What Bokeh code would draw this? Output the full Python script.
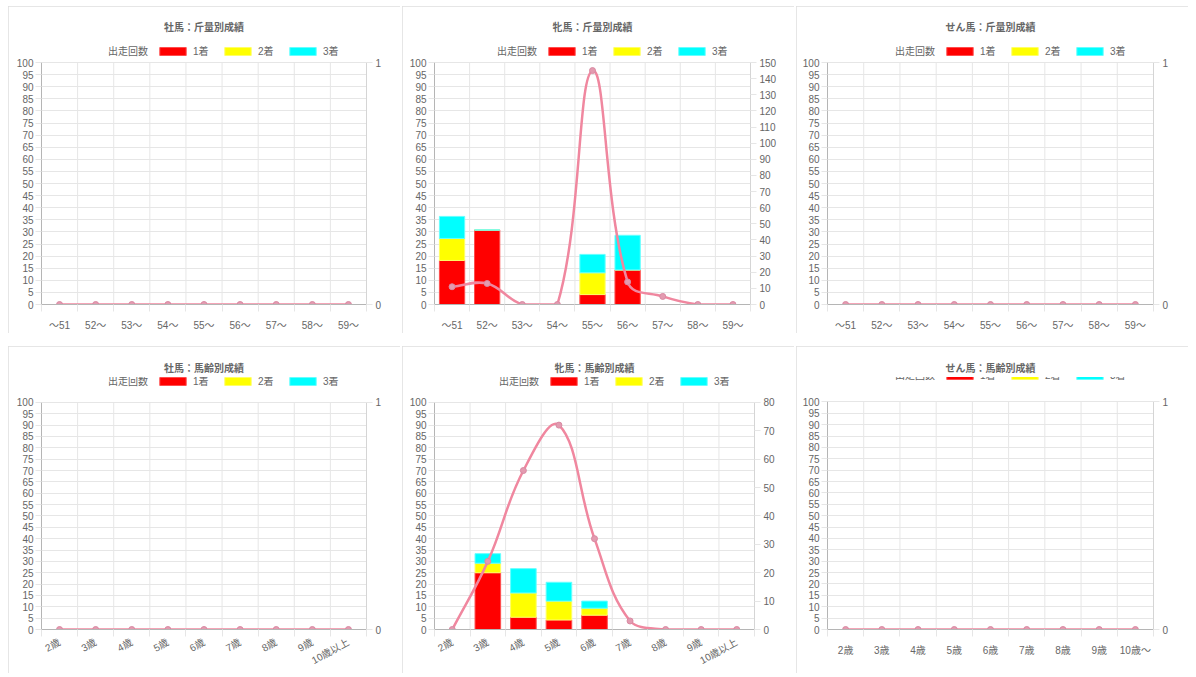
import math
from bokeh.plotting import figure
from bokeh.models import (Range1d, LinearAxis, FixedTicker, Legend, LegendItem,
                          ColumnDataSource)
from bokeh.layouts import row, column
from bokeh.embed import file_html
from bokeh.resources import INLINE

# ---------------- data ----------------
weight_labels = ["～51", "52～", "53～", "54～", "55～", "56～", "57～", "58～", "59～"]
age_labels = ["2歳", "3歳", "4歳", "5歳", "6歳", "7歳", "8歳", "9歳", "10歳以上"]
age_labels_gelding = ["2歳", "3歳", "4歳", "5歳", "6歳", "7歳", "8歳", "9歳", "10歳～"]

# 牡馬：斤量別成績
stallion_weight_runs = [0, 0, 0, 0, 0, 0, 0, 0, 0]
stallion_weight_win = [0, 0, 0, 0, 0, 0, 0, 0, 0]
stallion_weight_2nd = [0, 0, 0, 0, 0, 0, 0, 0, 0]
stallion_weight_3rd = [0, 0, 0, 0, 0, 0, 0, 0, 0]

# 牝馬：斤量別成績
mare_weight_runs = [11, 13, 0, 0, 145, 14, 5, 0, 0]
mare_weight_win = [18.2, 30.8, 0, 0, 4.1, 14.3, 0, 0, 0]
mare_weight_2nd = [9.1, 0, 0, 0, 9.0, 0, 0, 0, 0]
mare_weight_3rd = [9.1, 0, 0, 0, 7.6, 14.3, 0, 0, 0]

# せん馬：斤量別成績
gelding_weight_runs = [0, 0, 0, 0, 0, 0, 0, 0, 0]
gelding_weight_win = [0, 0, 0, 0, 0, 0, 0, 0, 0]
gelding_weight_2nd = [0, 0, 0, 0, 0, 0, 0, 0, 0]
gelding_weight_3rd = [0, 0, 0, 0, 0, 0, 0, 0, 0]

# 牡馬：馬齢別成績
stallion_age_runs = [0, 0, 0, 0, 0, 0, 0, 0, 0]
stallion_age_win = [0, 0, 0, 0, 0, 0, 0, 0, 0]
stallion_age_2nd = [0, 0, 0, 0, 0, 0, 0, 0, 0]
stallion_age_3rd = [0, 0, 0, 0, 0, 0, 0, 0, 0]

# 牝馬：馬齢別成績
mare_age_runs = [0, 24, 56, 72, 32, 3, 0, 0, 0]
mare_age_win = [0, 25.0, 5.4, 4.2, 6.3, 0, 0, 0, 0]
mare_age_2nd = [0, 4.2, 10.7, 8.3, 3.1, 0, 0, 0, 0]
mare_age_3rd = [0, 4.2, 10.7, 8.3, 3.1, 0, 0, 0, 0]

# せん馬：馬齢別成績
gelding_age_runs = [0, 0, 0, 0, 0, 0, 0, 0, 0]
gelding_age_win = [0, 0, 0, 0, 0, 0, 0, 0, 0]
gelding_age_2nd = [0, 0, 0, 0, 0, 0, 0, 0, 0]
gelding_age_3rd = [0, 0, 0, 0, 0, 0, 0, 0, 0]

left_ticks = list(range(0, 101, 5))
legend_labels = ["出走回数", "1着", "2着", "3着"]

# ---------------- style ----------------
FONT = "Liberation Sans, Noto Sans CJK JP"
TXT = "#666666"
GRID = "#e6e6e6"
AXIS = "#b5b5b5"
LINE = "#f0879f"
PT_FILL = "#e39bb0"
PT_LINE = "#d98aa3"
BAR_COLORS = ["#ff0000", "#ffff00", "#00ffff"]
BAR_LINES = ["#ff4d4d", "#ffff66", "#66ffff"]

W, H = 392, 327
GLYPH_W, STANDOFF, SPACING, PAD = 33, 4, 8, 3
EXT = 26  # extra frame room above the 100 line, used for the legend


def spline(xs, ys, fw, fh, xr, yr, tension=0.4):
    sx = fw / (xr[1] - xr[0])
    sy = fh / (yr[1] - yr[0])
    P = [((x - xr[0]) * sx, (y - yr[0]) * sy) for x, y in zip(xs, ys)]
    n = len(P)
    cps = []
    for i in range(n):
        c = P[i]
        pv = P[i - 1] if i > 0 else c
        nx = P[i + 1] if i < n - 1 else c
        d01 = math.hypot(c[0] - pv[0], c[1] - pv[1])
        d12 = math.hypot(nx[0] - c[0], nx[1] - c[1])
        tot = d01 + d12
        s01 = d01 / tot if tot else 0.0
        s12 = d12 / tot if tot else 0.0
        fa, fb = tension * s01, tension * s12
        prv = [c[0] - fa * (nx[0] - pv[0]), c[1] - fa * (nx[1] - pv[1])]
        nxt = [c[0] + fb * (nx[0] - pv[0]), c[1] + fb * (nx[1] - pv[1])]
        for q in (prv, nxt):
            q[0] = min(max(q[0], 0), fw)
            q[1] = min(max(q[1], 0), fh)
        cps.append((prv, nxt))

    def back(q):
        return q[0] / sx + xr[0], q[1] / sy + yr[0]

    seg = dict(x0=[], y0=[], x1=[], y1=[], cx0=[], cy0=[], cx1=[], cy1=[])
    for i in range(n - 1):
        a = back(P[i]); b = back(P[i + 1])
        c0 = back(cps[i][1]); c1 = back(cps[i + 1][0])
        seg["x0"].append(a[0]); seg["y0"].append(a[1])
        seg["x1"].append(b[0]); seg["y1"].append(b[1])
        seg["cx0"].append(c0[0]); seg["cy0"].append(c0[1])
        seg["cx1"].append(c1[0]); seg["cy1"].append(c1[1])
    return seg


def text_w(s, size=10):
    return sum(size if ord(ch) > 0x2000 else size * 0.56 for ch in s)


def panel(title, labels, runs, win, second, third, rmax, rticks, rotate,
          mbl, mbr, mbt, mbb, tstand):
    n = len(labels)
    xs = list(range(n))
    fw = W - mbl - mbr
    fh = H - mbt - mbb            # height of the 0..100 area
    fh_full = fh + EXT            # frame height incl. legend room
    k = fh_full / fh
    p = figure(width=W, height=H, x_range=Range1d(-0.5, n - 0.5),
               y_range=Range1d(0, 100 * k), output_backend="svg",
               toolbar_location=None,
               min_border_left=mbl, min_border_right=mbr,
               min_border_top=mbt - EXT, min_border_bottom=mbb)
    p.title.text = title
    p.title.align = "center"
    p.title.text_font = FONT
    p.title.text_font_size = "10px"
    p.title.text_font_style = "bold"
    p.title.text_color = TXT
    p.title.standoff = tstand
    p.outline_line_color = None
    p.styles = {"outline": "1px solid #dedede", "outline-offset": "-1px"}
    p.extra_y_ranges = {"right": Range1d(0, rmax * k)}

    rax = LinearAxis(y_range_name="right", ticker=FixedTicker(ticks=rticks))
    p.add_layout(rax, "right")
    lax = p.left[0]
    bax = p.below[0]

    # vertical grid lines at category boundaries (only up to the 100 line)
    bounds = [i - 0.5 for i in range(n + 1)]
    p.xgrid.visible = False
    p.segment(x0=bounds, y0=[0] * len(bounds), x1=bounds, y1=[100] * len(bounds),
              line_color=GRID, line_width=1)

    # x axis
    bax.ticker = FixedTicker(ticks=xs, minor_ticks=bounds)
    bax.major_label_overrides = {i: lab for i, lab in enumerate(labels)}
    bax.major_tick_line_color = None
    bax.major_tick_in = 0
    bax.major_tick_out = 0
    bax.minor_tick_line_color = GRID
    bax.minor_tick_in = 0
    bax.minor_tick_out = 7
    bax.axis_line_color = AXIS
    bax.major_label_standoff = 5 if rotate else 8
    if rotate:
        bax.major_label_orientation = 0.5

    # left y axis / grid
    yt = FixedTicker(ticks=left_ticks)
    lax.ticker = yt
    lax.bounds = (0, 100)
    p.ygrid.ticker = yt
    p.ygrid.grid_line_color = GRID
    lax.axis_line_color = AXIS
    lax.major_tick_line_color = GRID
    lax.major_tick_in = 0
    lax.major_tick_out = 6
    lax.minor_tick_line_color = None
    lax.major_label_standoff = 2

    rax.bounds = (0, rmax)
    rax.axis_line_color = "#d5d5d5"
    rax.major_tick_line_color = GRID
    rax.major_tick_in = 0
    rax.major_tick_out = 6
    rax.minor_tick_line_color = None
    rax.major_label_standoff = 3

    for ax in (bax, lax, rax):
        ax.major_label_text_font = FONT
        ax.major_label_text_font_size = "10px"
        ax.major_label_text_color = TXT

    # stacked bars (percent, left axis)
    src = ColumnDataSource(dict(x=xs, win=win, second=second, third=third))
    bars = p.vbar_stack(["win", "second", "third"], x="x", width=0.72,
                        source=src, fill_color=BAR_COLORS, line_color=BAR_LINES,
                        line_width=1)

    # runs line (right axis), smoothed like the original chart
    seg = spline(xs, runs, fw, fh, (-0.5, n - 0.5), (0, rmax))
    p.bezier(source=ColumnDataSource(seg), x0="x0", y0="y0", x1="x1", y1="y1",
             cx0="cx0", cy0="cy0", cx1="cx1", cy1="cy1", line_color=LINE,
             line_width=2.5, y_range_name="right")
    p.scatter(xs, runs, size=6, fill_color=PT_FILL, line_color=PT_LINE,
              line_width=1, y_range_name="right")

    proxy = p.vbar(x=[], top=[], width=0.5, fill_color="#ff7f99",
                   line_color="#f26d8a", line_width=1.5)

    lw = 2 * PAD + sum(GLYPH_W + STANDOFF + text_w(s) for s in legend_labels) \
        + SPACING * (len(legend_labels) - 1)
    legend = Legend(items=[LegendItem(label=legend_labels[0], renderers=[proxy]),
                           LegendItem(label=legend_labels[1], renderers=[bars[0]]),
                           LegendItem(label=legend_labels[2], renderers=[bars[1]]),
                           LegendItem(label=legend_labels[3], renderers=[bars[2]])],
                    orientation="horizontal",
                    location=(int(round((fw - lw) / 2)), fh + 4),
                    glyph_width=GLYPH_W, glyph_height=10, label_height=10,
                    label_standoff=STANDOFF, spacing=SPACING, padding=PAD, margin=0,
                    label_text_font=FONT, label_text_font_size="10px",
                    label_text_color=TXT, border_line_color=None,
                    background_fill_alpha=0)
    p.add_layout(legend, "center")
    return p


p1 = panel("牡馬：斤量別成績", weight_labels, stallion_weight_runs, stallion_weight_win,
           stallion_weight_2nd, stallion_weight_3rd, 1, [0, 1], False, 33, 34, 56, 29, 7)
p2 = panel("牝馬：斤量別成績", weight_labels, mare_weight_runs, mare_weight_win,
           mare_weight_2nd, mare_weight_3rd, 150, list(range(0, 151, 10)), False, 32, 44, 56, 29, 7)
p3 = panel("せん馬：斤量別成績", weight_labels, gelding_weight_runs, gelding_weight_win,
           gelding_weight_2nd, gelding_weight_3rd, 1, [0, 1], False, 31, 35, 56, 29, 7)
p4 = panel("牡馬：馬齢別成績", age_labels, stallion_age_runs, stallion_age_win,
           stallion_age_2nd, stallion_age_3rd, 1, [0, 1], True, 33, 34, 57, 33, 8)
p5 = panel("牝馬：馬齢別成績", age_labels, mare_age_runs, mare_age_win,
           mare_age_2nd, mare_age_3rd, 80, list(range(0, 81, 10)), True, 32, 40, 57, 33, 8)
p6 = panel("せん馬：馬齢別成績", age_labels_gelding, gelding_age_runs, gelding_age_win,
           gelding_age_2nd, gelding_age_3rd, 1, [0, 1], False, 31, 35, 56, 28, 7)

layout = column(row(p1, p2, p3, spacing=2),
                row(p4, p5, p6, spacing=2), spacing=13, margin=(6, 0, 0, 8))

open("out.html", "w").write(file_html(layout, INLINE))
